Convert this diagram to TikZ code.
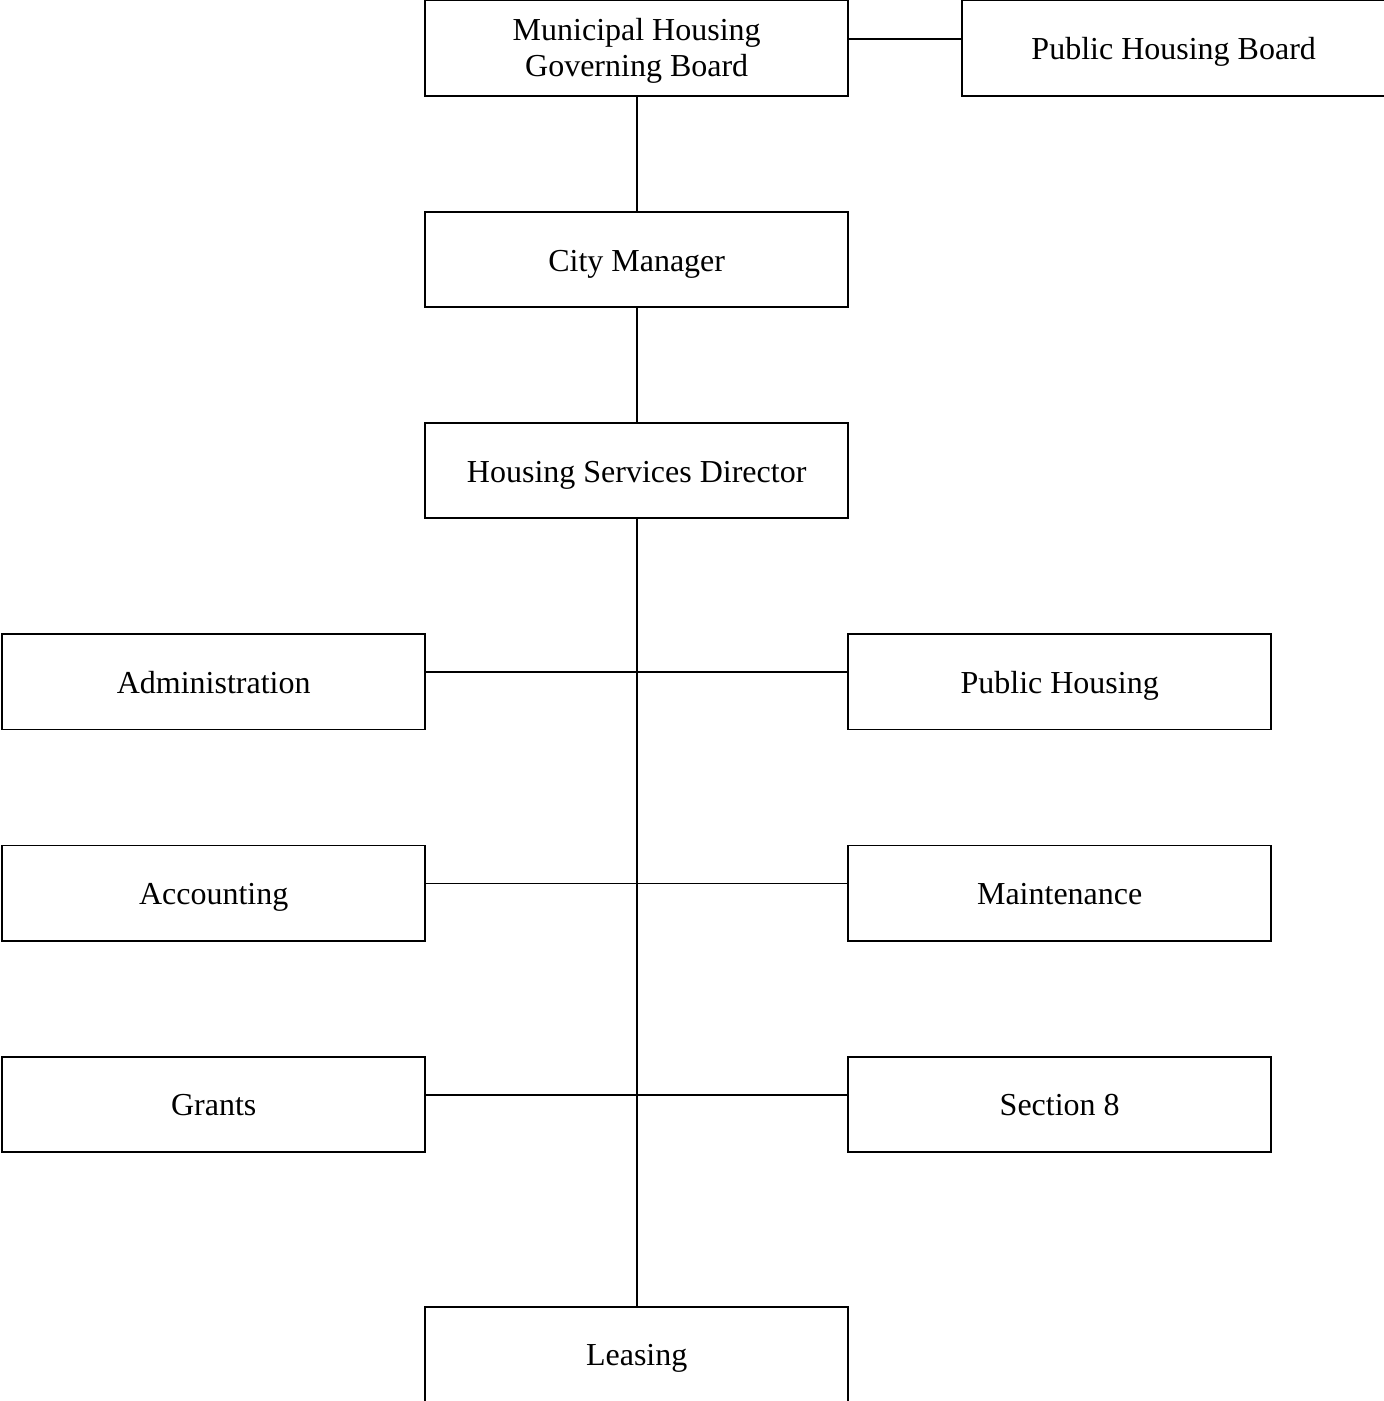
\documentclass[tikz,border=0pt]{standalone}
\usepackage{fontspec}
\setmainfont{Liberation Serif}
\usetikzlibrary{positioning}

\begin{document}
\begin{tikzpicture}[
  font=\fontsize{16}{18.4}\selectfont,
  node distance=57.95pt and 57pt,
  box/.style={draw,line width=0.9pt,align=center,minimum width=211.5pt,minimum height=47.65pt,
    inner sep=0pt,outer sep=0pt,text height=14.6pt,text depth=3pt},
  link/.style={line width=0.9pt},
]
\node[box,text height=31.7pt] (mhgb) {Municipal Housing\\Governing Board};
\node[box,right=of mhgb] (phb) {Public Housing Board};
\node[box,below=of mhgb] (cm) {City Manager};
\node[box,below=of cm] (hsd) {Housing Services Director};
\node[box,below left=57.95pt and 0pt of hsd] (admin) {Administration};
\node[box,below right=57.95pt and 0pt of hsd] (pubhsg) {Public Housing};
\node[box,below=of admin] (acct) {Accounting};
\node[box,below=of pubhsg] (maint) {Maintenance};
\node[box,below=of acct] (grants) {Grants};
\node[box,below=of maint] (sec8) {Section 8};
\coordinate (gbase) at (grants.south -| hsd);
\node[box,below=77.35pt of gbase] (leasing) {Leasing};
\draw[link] ([yshift=4.5pt]mhgb.east) -- ([yshift=4.5pt]phb.west);
\draw[link] (mhgb) -- (cm);
\draw[link] (cm) -- (hsd);
\draw[link] (hsd) -- (leasing);
\draw[link] ([yshift=4.75pt]admin.east) -- ([yshift=4.75pt]pubhsg.west);
\draw[link] ([yshift=4.75pt]acct.east) -- ([yshift=4.75pt]maint.west);
\draw[link] ([yshift=4.75pt]grants.east) -- ([yshift=4.75pt]sec8.west);
% page frame
\pgfresetboundingbox
\useasboundingbox ([xshift=-1.1pt,yshift=0.3pt]admin.west |- mhgb.north) rectangle ++(692pt,-700.5pt);
\end{tikzpicture}
\end{document}
